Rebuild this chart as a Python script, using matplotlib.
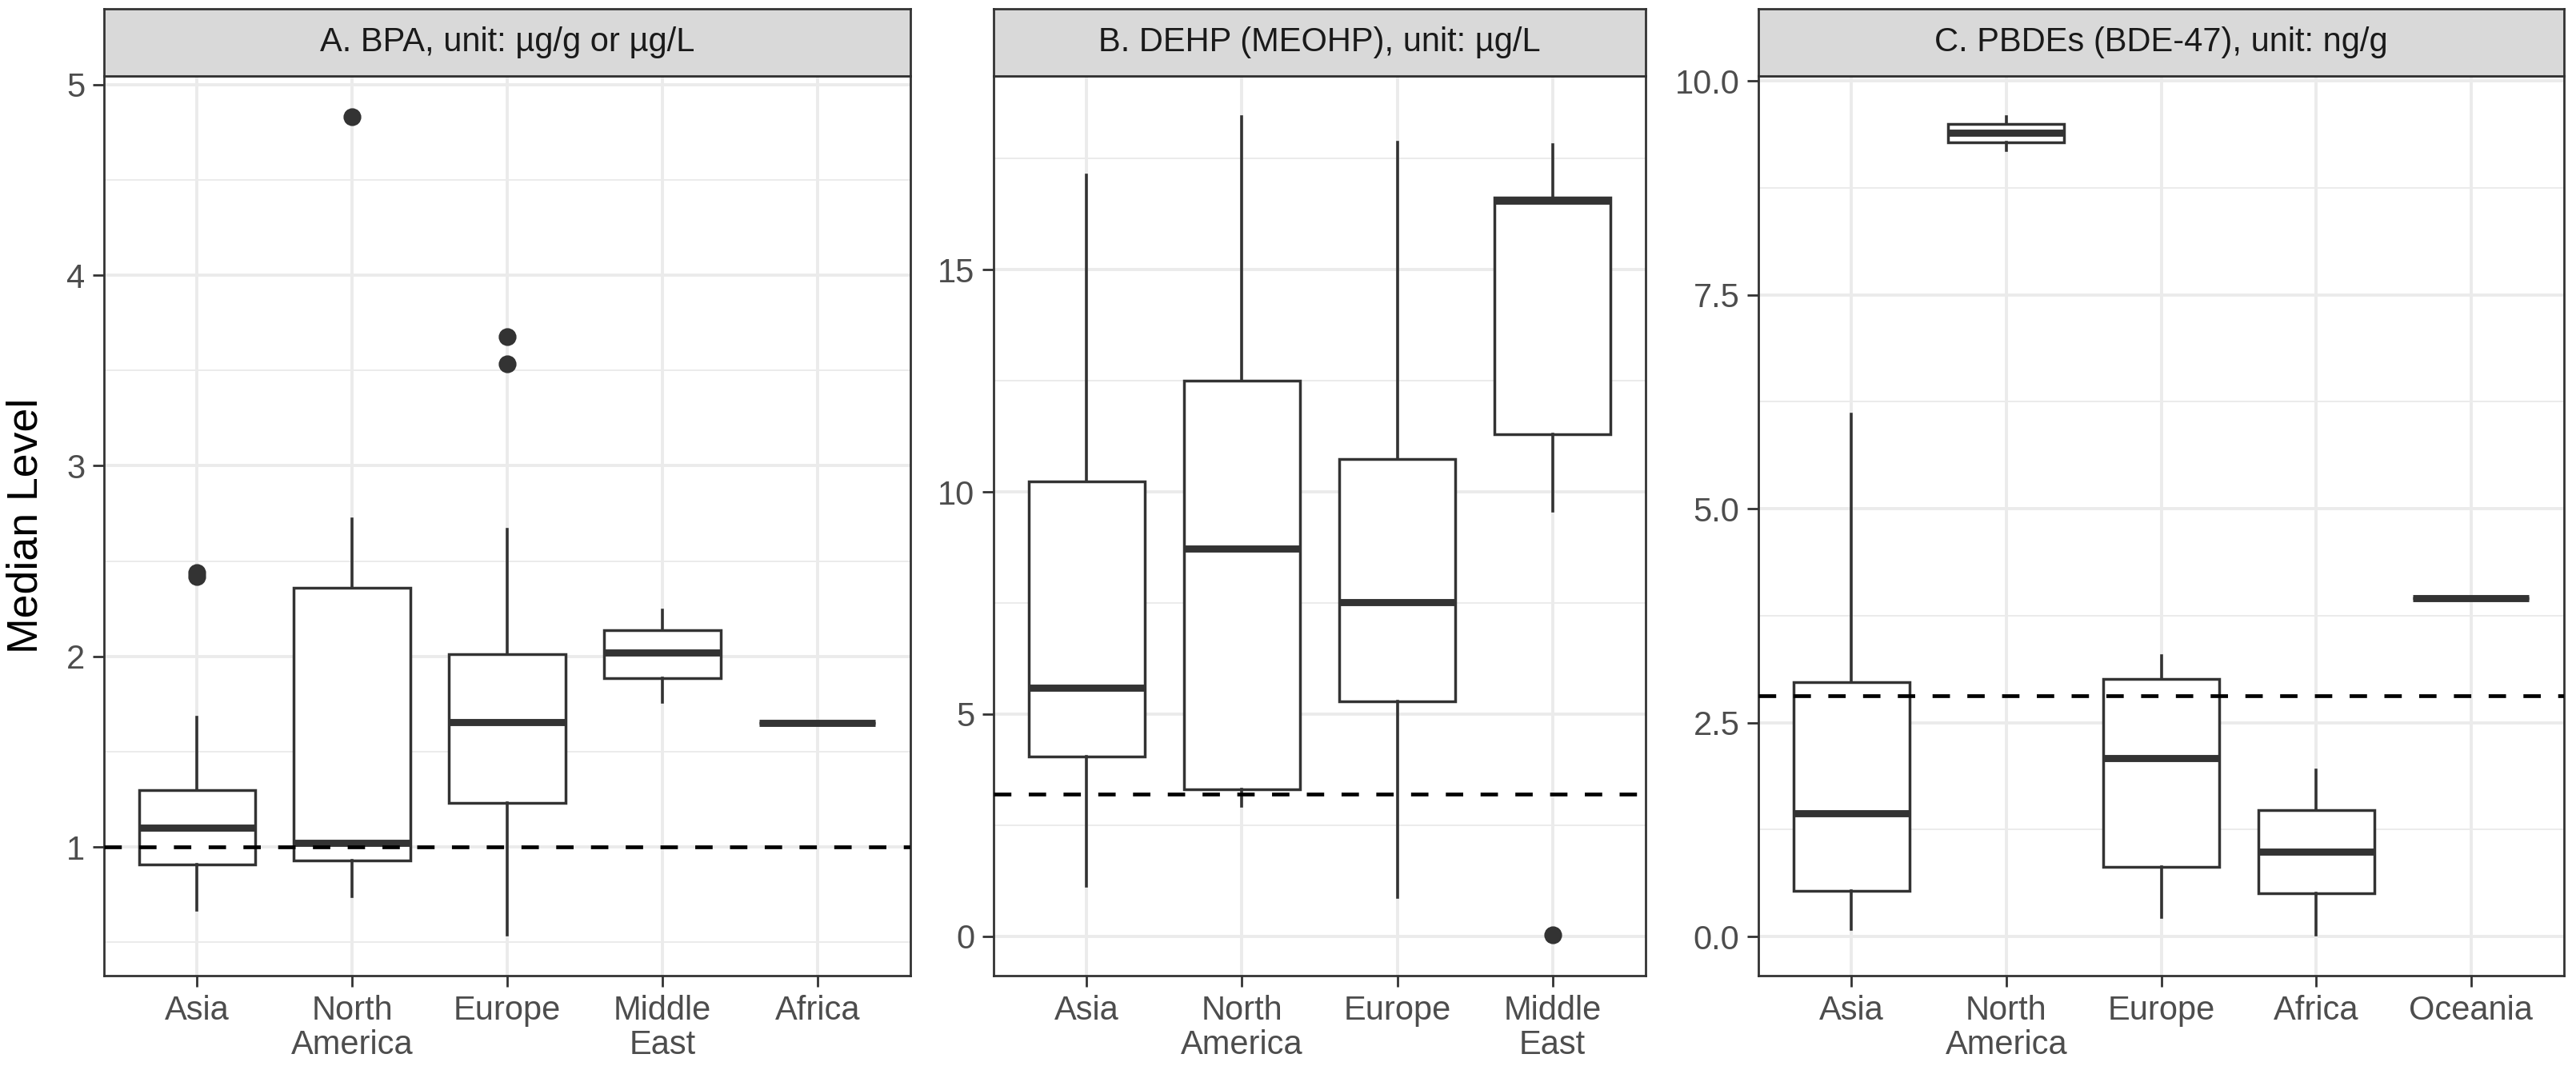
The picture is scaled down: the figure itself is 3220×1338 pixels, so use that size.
import matplotlib
matplotlib.use("Agg")
import matplotlib.pyplot as plt
from matplotlib.ticker import FixedLocator, NullLocator

plt.rcParams['font.family'] = ['Liberation Sans', 'DejaVu Sans']

# ---------------- data ----------------
# Panel A: BPA
titleA = "A. BPA, unit: µg/g or µg/L"
catsA = ["Asia", "North\nAmerica", "Europe", "Middle\nEast", "Africa"]
a_whislo = [0.67, 0.74, 0.54, 1.76, 1.65]
a_q1 = [0.91, 0.93, 1.23, 1.885, 1.65]
a_med = [1.10, 1.02, 1.655, 2.02, 1.65]
a_q3 = [1.30, 2.36, 2.01, 2.137, 1.65]
a_whishi = [1.68, 2.72, 2.667, 2.244, 1.65]
a_fliers = [[2.42, 2.44], [4.83], [3.676, 3.534], [], []]
a_ref = 1.0
a_major = [1, 2, 3, 4, 5]
a_minor = [0.5, 1.5, 2.5, 3.5, 4.5]
a_labels = ["1", "2", "3", "4", "5"]

# Panel B: DEHP (MEOHP)
titleB = "B. DEHP (MEOHP), unit: µg/L"
catsB = ["Asia", "North\nAmerica", "Europe", "Middle\nEast"]
b_whislo = [1.12, 2.92, 0.87, 9.56]
b_q1 = [4.04, 3.30, 5.29, 11.30]
b_med = [5.59, 8.73, 7.52, 16.55]
b_q3 = [10.24, 12.51, 10.74, 16.63]
b_whishi = [17.12, 18.44, 17.86, 17.82]
b_fliers = [[], [], [], [0.03]]
b_ref = 3.2
b_major = [0, 5, 10, 15]
b_minor = [2.5, 7.5, 12.5, 17.5]
b_labels = ["0", "5", "10", "15"]

# Panel C: PBDEs (BDE-47)
titleC = "C. PBDEs (BDE-47), unit: ng/g"
catsC = ["Asia", "North\nAmerica", "Europe", "Africa", "Oceania"]
c_whislo = [0.08, 9.19, 0.22, 0.02, 3.95]
c_q1 = [0.53, 9.28, 0.81, 0.505, 3.95]
c_med = [1.44, 9.39, 2.08, 0.99, 3.95]
c_q3 = [2.975, 9.50, 3.01, 1.477, 3.95]
c_whishi = [6.105, 9.58, 3.28, 1.94, 3.95]
c_fliers = [[], [], [], [], []]
c_ref = 2.81
c_major = [0, 2.5, 5, 7.5, 10]
c_minor = [1.25, 3.75, 6.25, 8.75]
c_labels = ["0.0", "2.5", "5.0", "7.5", "10.0"]

ylabel = "Median Level"

# ---------------- layout ----------------
W, H = 3220, 1338
DPI = 200
fig = plt.figure(figsize=(W / DPI, H / DPI), dpi=DPI)
fig.patch.set_facecolor("white")

panel_top_px, panel_bot_px, strip_top_px = 95, 1220, 11
panel_x = [(130, 1138), (1242, 2057), (2198, 3205)]

DARK = "#333333"
GRID = "#EBEBEB"

panels = [
    (titleA, catsA, a_whislo, a_q1, a_med, a_q3, a_whishi, a_fliers, a_ref, a_major, a_minor, a_labels),
    (titleB, catsB, b_whislo, b_q1, b_med, b_q3, b_whishi, b_fliers, b_ref, b_major, b_minor, b_labels),
    (titleC, catsC, c_whislo, c_q1, c_med, c_q3, c_whishi, c_fliers, c_ref, c_major, c_minor, c_labels),
]

for (x0, x1), (title, cats, wlo, q1, med, q3, whi, fl, ref, major, minor, labels) in zip(panel_x, panels):
    left = x0 / W
    width = (x1 - x0) / W
    bottom = 1 - panel_bot_px / H
    height = (panel_bot_px - panel_top_px) / H
    ax = fig.add_axes([left, bottom, width, height])
    n = len(cats)
    pos = list(range(1, n + 1))
    stats = []
    for i in range(n):
        stats.append(dict(whislo=wlo[i], q1=q1[i], med=med[i], q3=q3[i],
                          whishi=whi[i], fliers=fl[i]))
    ax.bxp(stats, positions=pos, widths=0.75, patch_artist=True, showcaps=False,
           boxprops=dict(facecolor="white", edgecolor=DARK, linewidth=1.25),
           medianprops=dict(color=DARK, linewidth=3.2, solid_capstyle="butt"),
           whiskerprops=dict(color=DARK, linewidth=1.3),
           flierprops=dict(marker="o", markerfacecolor=DARK, markeredgecolor=DARK,
                           markersize=7.0, linestyle="none"))
    ax.axhline(ref, color="black", linewidth=1.7, linestyle=(0, (4.6, 4.6)), zorder=5)

    allv = wlo + whi + [v for f in fl for v in f] + [ref]
    lo, hi = min(allv), max(allv)
    pad = 0.05 * (hi - lo)
    ax.set_ylim(lo - pad, hi + pad)
    ax.set_xlim(0.4, n + 0.6)

    ax.yaxis.set_major_locator(FixedLocator(major))
    ax.yaxis.set_minor_locator(FixedLocator(minor))
    ax.set_yticklabels(labels)
    ax.xaxis.set_major_locator(FixedLocator(pos))
    ax.xaxis.set_minor_locator(NullLocator())
    ax.set_xticklabels(cats, linespacing=1.12)

    ax.set_axisbelow(True)
    ax.grid(which="major", color=GRID, linewidth=1.4)
    ax.grid(which="minor", axis="y", color=GRID, linewidth=0.7)
    ax.tick_params(which="major", length=5, width=1.0, color=DARK,
                   labelsize=15, labelcolor="#4D4D4D", pad=3.5)
    ax.tick_params(which="minor", length=0)
    for s in ax.spines.values():
        s.set_color(DARK)
        s.set_linewidth(1.0)

    # strip
    sb = 1 - panel_top_px / H
    sh = (panel_top_px - strip_top_px) / H
    sax = fig.add_axes([left, sb, width, sh])
    sax.set_facecolor("#D9D9D9")
    sax.set_xticks([])
    sax.set_yticks([])
    for s in sax.spines.values():
        s.set_color(DARK)
        s.set_linewidth(1.0)
    sax.text(0.5, 0.5, title, ha="center", va="center", fontsize=15,
             color="#1A1A1A", transform=sax.transAxes)

fig.text(33 / W, 1 - 657 / H, ylabel, rotation=90, ha="center", va="center",
         fontsize=19.3, color="black")

fig.savefig("out.png", dpi=DPI, facecolor="white")
